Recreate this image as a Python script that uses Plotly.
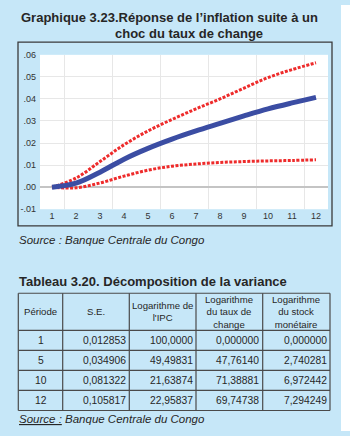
import plotly.graph_objects as go

# Impulse response of inflation to an exchange-rate shock (12 periods)
periods = list(range(1, 13))
response = [0.0, 0.0018, 0.0068, 0.0127, 0.0176, 0.0218, 0.0255, 0.0289, 0.0323, 0.0355, 0.0382, 0.0407]
upper_band = [0.0, 0.0041, 0.0116, 0.0192, 0.0255, 0.0307, 0.0355, 0.0400, 0.0449, 0.0497, 0.0533, 0.0564]
lower_band = [0.0, -0.0003, 0.0019, 0.0050, 0.0077, 0.0095, 0.0105, 0.0112, 0.0116, 0.0119, 0.0121, 0.0124]

y_ticks = [-0.01, 0.0, 0.01, 0.02, 0.03, 0.04, 0.05, 0.06]
y_tick_labels = ["-.01", ".00", ".01", ".02", ".03", ".04", ".05", ".06"]

# Variance decomposition table
tab_periods = [1, 5, 10, 12]
tab_se = [0.012853, 0.034906, 0.081322, 0.105817]
tab_ipc = [100.0, 49.49831, 21.63874, 22.95837]
tab_change = [0.0, 47.76140, 71.38881, 69.74738]
tab_money = [0.0, 2.740281, 6.972442, 7.294249]
tab_headers = ["Période", "S.E.", "Logarithme de<br>l'IPC",
               "Logarithme<br>du taux de<br>change", "Logarithme<br>du stock<br>monétaire"]

W, H = 350, 436
BG = "#c6e7f8"
INK = "#262626"
FONT = "Liberation Sans, Arial, sans-serif"


def px(x):
    return x / W


def py(y):
    return 1 - y / H


def fr(v):
    # French decimal notation with 7 significant digits
    if v >= 100:
        s = f"{v:.4f}"
    elif v >= 10:
        s = f"{v:.5f}"
    else:
        s = f"{v:.6f}"
    return s.replace(".", ",")


fig = go.Figure()

red_line = dict(color="#ee2b2b", width=3, dash="3px,1.5px")
fig.add_trace(go.Scatter(x=periods, y=upper_band, mode="lines", line_shape="spline",
                         line=red_line, hoverinfo="skip", showlegend=False))
fig.add_trace(go.Scatter(x=periods, y=lower_band, mode="lines", line_shape="spline",
                         line=red_line, hoverinfo="skip", showlegend=False))
fig.add_trace(go.Scatter(x=periods, y=response, mode="lines", line_shape="spline",
                         line=dict(color="#3b4da3", width=5),
                         hoverinfo="skip", showlegend=False))

tick_font = dict(family=FONT, size=9, color="#333333")

fig.update_layout(
    width=W, height=H,
    margin=dict(l=0, r=0, t=0, b=0),
    paper_bgcolor=BG, plot_bgcolor="white",
    xaxis=dict(
        domain=[px(40), px(328)], range=[0.5, 12.5],
        tickmode="array", tickvals=periods, ticktext=[str(p) for p in periods],
        showgrid=False, zeroline=False, showline=False, ticks="",
        tickfont=tick_font,
        minor=dict(tickvals=[p + 0.5 for p in periods[::2]], showgrid=True,
                   gridcolor="#e7e7e7", gridwidth=1, ticks=""),
    ),
    yaxis=dict(
        domain=[py(209), py(51)], range=[-0.01, 0.06],
        tickmode="array", tickvals=y_ticks, ticktext=y_tick_labels,
        showgrid=True, gridcolor="#e7e7e7", gridwidth=1,
        zeroline=True, zerolinecolor="#c4c4c4", zerolinewidth=1.5,
        showline=False, ticks="", ticklabelstandoff=3,
        tickfont=tick_font,
    ),
)

# White margin strip on the right-hand side of the page
fig.add_shape(type="rect", xref="paper", yref="paper",
              x0=px(341), x1=1, y0=0, y1=1, layer="below",
              line=dict(width=0), fillcolor="white")

# Frame around the chart
fig.add_shape(type="rect", xref="paper", yref="paper",
              x0=px(18), x1=px(332), y0=py(226), y1=py(38),
              line=dict(color="#3a3a3a", width=1.3), fillcolor="rgba(0,0,0,0)")

title_font = dict(family=FONT, size=13, color=INK)
fig.add_annotation(xref="paper", yref="paper", x=px(169), y=py(13),
                   text="<b>Graphique 3.23.Réponse de l’inflation suite à un</b>",
                   showarrow=False, xanchor="center", yanchor="middle", font=title_font)
fig.add_annotation(xref="paper", yref="paper", x=px(189), y=py(29),
                   text="<b>choc du taux de change</b>",
                   showarrow=False, xanchor="center", yanchor="middle", font=title_font)

src_font = dict(family=FONT, size=11.5, color=INK)
fig.add_annotation(xref="paper", yref="paper", x=px(17), y=py(241),
                   text="<i>Source : Banque Centrale du Congo</i>",
                   showarrow=False, xanchor="left", yanchor="middle", font=src_font)

fig.add_annotation(xref="paper", yref="paper", x=px(17), y=py(283),
                   text="<b>Tableau 3.20. Décomposition de la variance</b>",
                   showarrow=False, xanchor="left", yanchor="middle", font=title_font)

fig.add_annotation(xref="paper", yref="paper", x=px(17), y=py(424),
                   text="<u><i>Source :</i></u><i> Banque Centrale du Congo</i>",
                   showarrow=False, xanchor="left", yanchor="middle", font=src_font)

# Table grid (pixel positions of column and row borders)
col_edges = [18.3, 62.7, 129.3, 196.0, 262.7, 330.0]
row_edges = [295.0, 333.0, 353.5, 374.0, 394.5, 415.0]
grid_line = dict(color="#4a4a4a", width=1.2)
for xe in col_edges:
    fig.add_shape(type="line", xref="paper", yref="paper",
                  x0=px(xe), x1=px(xe), y0=py(row_edges[0]), y1=py(row_edges[-1]),
                  line=grid_line)
for ye in row_edges:
    fig.add_shape(type="line", xref="paper", yref="paper",
                  x0=px(col_edges[0]), x1=px(col_edges[-1]), y0=py(ye), y1=py(ye),
                  line=grid_line)

# Header cells: one multi-line label per column, centred in the header row
head_font = dict(family=FONT, size=9.6, color=INK)
head_mid = (row_edges[0] + row_edges[1]) / 2
for c, head in enumerate(tab_headers):
    cx = (col_edges[c] + col_edges[c + 1]) / 2
    fig.add_annotation(xref="paper", yref="paper", x=px(cx), y=py(head_mid),
                       text=head, showarrow=False, xanchor="center", align="center",
                       yanchor="middle", font=head_font)

cell_font = dict(family=FONT, size=10.3, color=INK)
columns = [[str(p) for p in tab_periods],
           [fr(v) for v in tab_se],
           [fr(v) for v in tab_ipc],
           [fr(v) for v in tab_change],
           [fr(v) for v in tab_money]]
for c, col in enumerate(columns):
    for r, txt in enumerate(col):
        yy = (row_edges[r + 1] + row_edges[r + 2]) / 2
        if c == 0:
            xx, anchor = (col_edges[0] + col_edges[1]) / 2, "center"
        else:
            xx, anchor = col_edges[c + 1] - 1.5, "right"
        fig.add_annotation(xref="paper", yref="paper", x=px(xx), y=py(yy),
                           text=txt, showarrow=False, xanchor=anchor,
                           yanchor="middle", font=cell_font)

fig.write_html("out.html")
